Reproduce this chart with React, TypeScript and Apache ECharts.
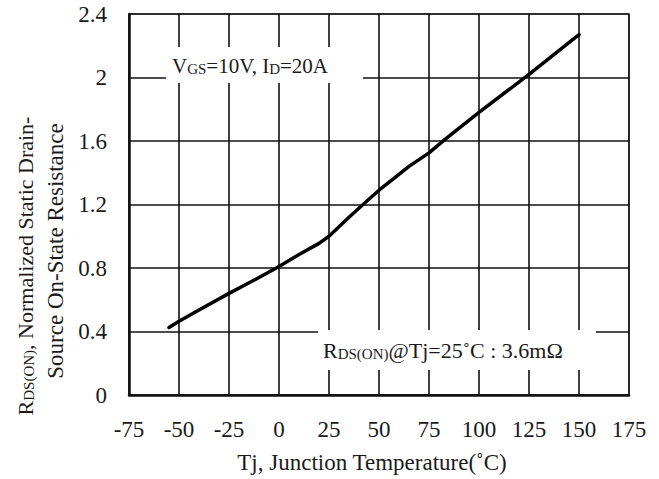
import React, { useEffect, useRef } from "react";
import * as echarts from "echarts";

const temperatures = [-55, -50, -40, -25, -10, 0, 10, 20, 25, 35, 42, 50, 57, 65, 75, 83, 100, 125, 150];
const resistance = [0.425, 0.465, 0.535, 0.64, 0.74, 0.81, 0.885, 0.955, 1.0, 1.12, 1.2, 1.29, 1.36, 1.44, 1.525, 1.61, 1.78, 2.02, 2.27];
const xTicks = { min: -75, max: 175, interval: 25 };
const yTicks = { min: 0, max: 2.4, interval: 0.4 };
const xTitle = "Tj, Junction Temperature(˚C)";
const note1 = "V{s|GS}=10V, I{s|D}=20A";
const note2 = "R{s|DS(ON)}@Tj=25˚C : 3.6m{n|Ω}";
const yTitle1 = "R{s|DS(ON)}, Normalized Static Drain-";
const yTitle2 = "Source On-State Resistance";

const FONT = "Liberation Serif";
const INK = "#1a1a1a";

export default function App() {
  const ref = useRef<HTMLDivElement>(null);
  useEffect(() => {
    if (!ref.current) return;
    const chart = echarts.init(ref.current, undefined, { renderer: "svg" });
    const rich = {
      s: { fontSize: 15, fontFamily: FONT, fill: INK, color: INK, verticalAlign: "bottom" as const },
      n: { fontSize: 22, fontFamily: FONT, fill: INK, color: INK },
    };
    chart.setOption({
      animation: false,
      backgroundColor: "#ffffff",
      textStyle: { fontFamily: FONT },
      grid: {
        left: 129,
        top: 14,
        right: 30,
        bottom: 80,
        show: true,
        borderColor: "#8a8a8a",
        borderWidth: 2,
        backgroundColor: "transparent",
      },
      xAxis: {
        type: "value",
        min: xTicks.min,
        max: xTicks.max,
        interval: xTicks.interval,
        axisLine: { show: true, onZero: false, lineStyle: { color: "#111", width: 2.5 } },
        axisTick: { show: false },
        axisLabel: { fontFamily: FONT, fontSize: 23, color: INK, margin: 23 },
        splitLine: { show: true, lineStyle: { color: "#111", width: 1.6 } },
        name: xTitle,
        nameLocation: "middle",
        nameGap: 56,
        nameTextStyle: { fontFamily: FONT, fontSize: 23, color: INK, padding: [0, 14, 0, 0] },
      },
      yAxis: {
        type: "value",
        min: yTicks.min,
        max: yTicks.max,
        interval: yTicks.interval,
        axisLine: { show: true, onZero: false, lineStyle: { color: "#111", width: 2.5 } },
        axisTick: { show: false },
        axisLabel: { fontFamily: FONT, fontSize: 23, color: INK, margin: 22 },
        splitLine: { show: true, lineStyle: { color: "#111", width: 1.6 } },
      },
      series: [
        {
          type: "line",
          data: temperatures.map((t, i) => [t, resistance[i]]),
          symbol: "none",
          smooth: false,
          lineStyle: { color: "#000", width: 3.5, join: "round", cap: "round" },
          z: 5,
        },
      ],
      graphic: [
        {
          type: "rect",
          shape: { x: 166, y: 47, width: 197, height: 36 },
          style: { fill: "#fff" },
          z: 10,
        },
        {
          type: "text",
          x: 172,
          y: 66,
          style: {
            text: note1,
            fontFamily: FONT,
            fontSize: 21,
            fill: INK,
            verticalAlign: "middle",
            align: "left",
            rich,
          },
          z: 11,
        },
        {
          type: "rect",
          shape: { x: 318, y: 330, width: 278, height: 40 },
          style: { fill: "#fff" },
          z: 10,
        },
        {
          type: "text",
          x: 323,
          y: 350,
          style: {
            text: note2,
            fontFamily: FONT,
            fontSize: 22,
            fill: INK,
            verticalAlign: "middle",
            align: "left",
            rich,
          },
          z: 11,
        },
        {
          type: "text",
          x: 25,
          y: 266,
          rotation: Math.PI / 2,
          style: {
            text: yTitle1,
            fontFamily: FONT,
            fontSize: 22,
            fill: INK,
            align: "center",
            verticalAlign: "middle",
            rich,
          },
        },
        {
          type: "text",
          x: 55,
          y: 251,
          rotation: Math.PI / 2,
          style: {
            text: yTitle2,
            fontFamily: FONT,
            fontSize: 23,
            fill: INK,
            align: "center",
            verticalAlign: "middle",
          },
        },
      ],
    });
    return () => chart.dispose();
  }, []);
  return <div ref={ref} style={{ width: 659, height: 479, position: "absolute", left: 0, top: 0 }} />;
}
